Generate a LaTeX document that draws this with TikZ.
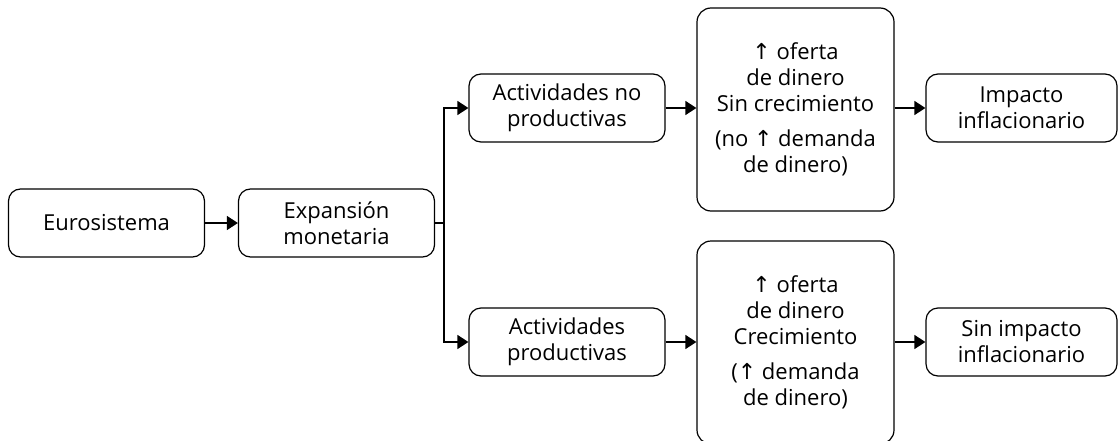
\documentclass[tikz,border=0pt]{standalone}
\usepackage{fontspec}
\setmainfont{Open Sans}
\newfontfamily\symfont{DejaVu Sans}
\usetikzlibrary{arrows.meta}
\newcommand{\upar}{{\symfont\char"2191}}
\begin{document}
\begin{tikzpicture}[x=1pt,y=-1pt,
  box/.style={draw, line width=1.2pt, rounded corners=12pt, minimum width=196pt, minimum height=68pt, align=center, inner sep=0pt, font=\fontsize{22}{26}\selectfont},
  rbox/.style={box, minimum width=191pt},
  bigbox/.style={box, minimum width=197pt, minimum height=203pt, rounded corners=14pt},
  conn/.style={line width=1.2pt, -{Triangle[length=11pt,width=14pt]}},
  line/.style={line width=1.2pt}
]
\useasboundingbox (0,0) rectangle (1118,441);
\node[box] (euro) at (106.5,223) {Eurosistema};
\node[box] (exp) at (336.5,223) {Expansión\\monetaria};
\node[box] (np) at (567,108) {Actividades no\\productivas};
\node[box] (p) at (567,342) {Actividades\\productivas};
\node[bigbox] (b1) at (795.5,109.5) {\upar{} oferta\\de dinero\\Sin crecimiento\\[9pt](no \upar{} demanda\\de dinero)};
\node[bigbox] (b2) at (795.5,342.5) {\upar{} oferta\\de dinero\\Crecimiento\\[9pt](\upar{} demanda\\de dinero)};
\node[rbox] (imp) at (1021.5,108) {Impacto\\inflacionario};
\node[rbox] (simp) at (1021.5,342) {Sin impacto\\inflacionario};
\coordinate (j) at (444,223);
\draw[conn] (euro) -- (exp);
\draw[line] (exp.east) -- (j);
\draw[conn] (j) |- (np.west);
\draw[conn] (j) |- (p.west);
\draw[conn] (np.east) -- (np.east -| b1.west);
\draw[conn] (p.east) -- (p.east -| b2.west);
\draw[conn] (b1.east |- imp.west) -- (imp.west);
\draw[conn] (b2.east |- simp.west) -- (simp.west);
\end{tikzpicture}
\end{document}
